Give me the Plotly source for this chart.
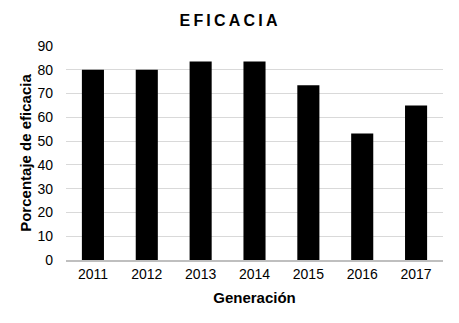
import plotly.graph_objects as go

years = ["2011", "2012", "2013", "2014", "2015", "2016", "2017"]
eficacia = [80.0, 80.0, 83.5, 83.5, 73.5, 53.2, 65.0]
y_ticks = [0, 10, 20, 30, 40, 50, 60, 70, 80, 90]

fig = go.Figure(go.Bar(x=years, y=eficacia, marker=dict(color="black", line=dict(width=0))))

font = "Liberation Sans, Arial, sans-serif"
title_text = "\u2009".join("EFICACIA")
fig.update_layout(
    width=459, height=323,
    margin=dict(l=66, r=16, t=46, b=63),
    paper_bgcolor="white", plot_bgcolor="white",
    bargap=0.59,
    font=dict(family=font, size=14, color="#000000"),
    title=dict(text="<b>" + title_text + "</b>", x=(228.5) / 459, xanchor="center",
               y=1 - 20 / 323, yanchor="middle",
               font=dict(family=font, size=16, color="#000000")),
    showlegend=False,
)
fig.update_xaxes(
    type="category",
    showline=True, linecolor="#bfbfbf", linewidth=1.5,
    showgrid=False, ticks="", ticklen=0,
    tickfont=dict(size=14),
    title=dict(text="<b>Generación</b>", font=dict(size=15), standoff=12),
)
fig.update_yaxes(
    range=[0, 90], tickvals=y_ticks,
    showgrid=True, gridcolor="#d9d9d9", gridwidth=1,
    zeroline=False, showline=False, ticks="",
    tickfont=dict(size=14), ticklabelstandoff=12,
    title=dict(text="<b>Porcentaje de eficacia</b>", font=dict(size=15), standoff=2),
)

fig.write_html("out.html")
